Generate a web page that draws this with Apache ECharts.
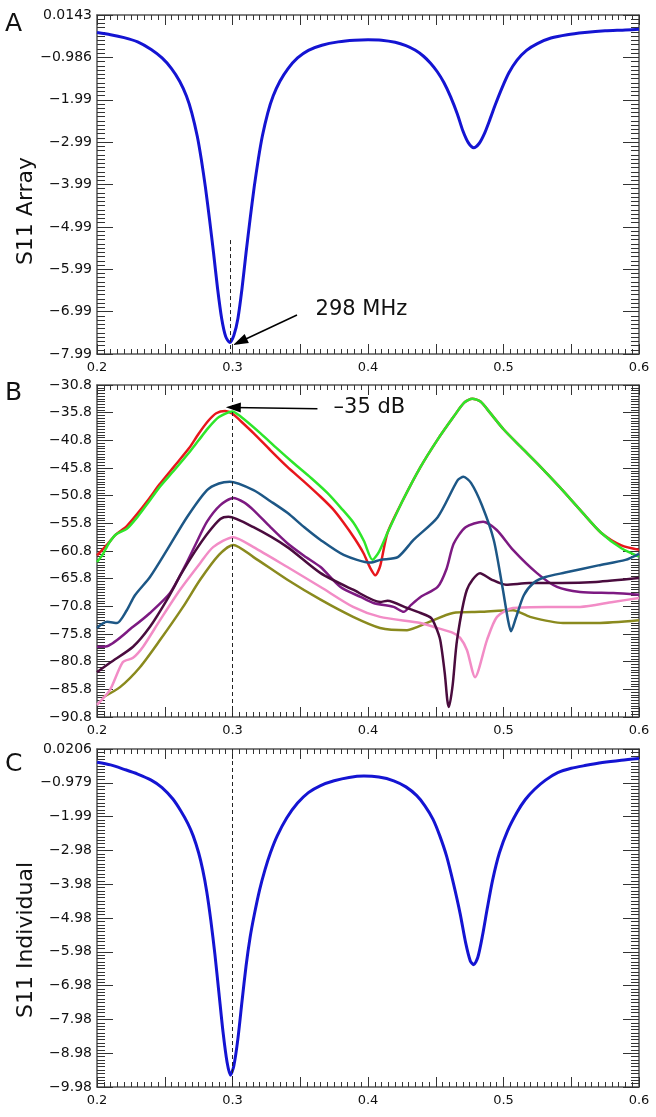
<!DOCTYPE html>
<html><head><meta charset="utf-8">
<script src="https://cdn.jsdelivr.net/npm/echarts@6/dist/echarts.min.js"></script>
<style>html,body{margin:0;padding:0;background:#fff}#c{width:656px;height:1117px}</style>
</head><body><div id="c"></div>
<script>
// ---------- DATA ----------
const xTickLabels = ['0.2','0.3','0.4','0.5','0.6'];
const yTickLabelsA = ['\u22127.99','\u22126.99','\u22125.99','\u22124.99','\u22123.99','\u22122.99','\u22121.99','\u22120.986','0.0143'];
const yTickLabelsB = ['\u221290.8','\u221285.8','\u221280.8','\u221275.8','\u221270.8','\u221265.8','\u221260.8','\u221255.8','\u221250.8','\u221245.8','\u221240.8','\u221235.8','\u221230.8'];
const yTickLabelsC = ['\u22129.98','\u22128.98','\u22127.98','\u22126.98','\u22125.98','\u22124.98','\u22123.98','\u22122.98','\u22121.99','\u22120.979','0.0206'];

// Panel A: S11 Array
const freqA = [0.200,0.210,0.220,0.230,0.240,0.248,0.255,0.261,0.266,0.270,0.274,0.277,0.280,0.283,0.286,0.289,0.292,0.295,0.298,0.301,0.304,0.307,0.310,0.313,0.316,0.319,0.322,0.326,0.330,0.335,0.341,0.348,0.356,0.366,0.378,0.390,0.400,0.410,0.420,0.428,0.435,0.441,0.446,0.451,0.456,0.461,0.466,0.470,0.474,0.478,0.482,0.486,0.490,0.494,0.499,0.504,0.510,0.517,0.525,0.535,0.547,0.560,0.575,0.590,0.600];
const s11Array = [-0.40,-0.45,-0.52,-0.62,-0.80,-1.00,-1.25,-1.55,-1.90,-2.30,-2.85,-3.40,-4.05,-4.80,-5.60,-6.45,-7.15,-7.58,-7.72,-7.55,-7.15,-6.45,-5.60,-4.80,-4.05,-3.40,-2.85,-2.30,-1.90,-1.55,-1.25,-1.00,-0.82,-0.70,-0.62,-0.58,-0.57,-0.58,-0.63,-0.71,-0.82,-0.96,-1.12,-1.32,-1.58,-1.92,-2.33,-2.72,-3.00,-3.12,-3.02,-2.78,-2.45,-2.10,-1.70,-1.35,-1.05,-0.82,-0.66,-0.53,-0.45,-0.40,-0.36,-0.34,-0.32];

// Panel B: coupling traces (dB)
const freqRed = [0.200,0.208,0.214,0.222,0.230,0.238,0.246,0.257,0.268,0.275,0.282,0.288,0.2946,0.300,0.306,0.3155,0.328,0.3405,0.353,0.365,0.374,0.382,0.390,0.3967,0.4015,0.4055,0.409,0.4144,0.426,0.4388,0.451,0.463,0.471,0.477,0.483,0.490,0.500,0.5128,0.527,0.542,0.557,0.572,0.587,0.600];
const dbRed = [-61.6,-59.5,-57.8,-56.3,-54.0,-51.5,-48.8,-45.5,-42.2,-39.6,-37.3,-35.9,-35.5,-36.0,-37.3,-39.5,-42.6,-45.6,-48.3,-51.0,-53.2,-55.7,-58.5,-61.2,-63.8,-65.2,-63.5,-57.5,-51.5,-45.6,-40.8,-36.6,-34.0,-33.3,-33.8,-35.8,-38.8,-42.0,-45.5,-49.4,-53.5,-57.5,-59.8,-60.6];
const freqGreen = [0.200,0.204,0.209,0.214,0.222,0.230,0.238,0.246,0.257,0.268,0.275,0.282,0.290,0.2998,0.306,0.3205,0.333,0.345,0.358,0.370,0.380,0.3893,0.397,0.4033,0.408,0.4144,0.426,0.4388,0.451,0.463,0.471,0.477,0.483,0.490,0.500,0.5128,0.527,0.542,0.557,0.572,0.587,0.600];
const dbGreen = [-62.8,-61.5,-59.3,-57.8,-56.8,-54.6,-52.0,-49.3,-46.2,-43.0,-40.8,-38.6,-36.6,-35.6,-36.5,-39.5,-42.3,-44.9,-47.6,-50.3,-53.0,-55.7,-59.0,-62.4,-61.0,-57.5,-51.5,-45.6,-40.8,-36.6,-34.0,-33.3,-33.8,-35.8,-38.8,-42.0,-45.5,-49.4,-53.5,-57.5,-60.3,-61.8];
const freqNavy = [0.200,0.2074,0.2148,0.222,0.228,0.2391,0.2517,0.2664,0.2812,0.290,0.298,0.3155,0.328,0.3405,0.353,0.365,0.382,0.402,0.409,0.422,0.4336,0.4514,0.4662,0.4705,0.476,0.484,0.4928,0.499,0.5035,0.5055,0.509,0.515,0.5225,0.531,0.5455,0.570,0.590,0.600];
const dbNavy = [-74.7,-73.6,-73.8,-71.5,-68.8,-65.5,-60.6,-54.7,-49.8,-48.6,-48.3,-49.8,-51.8,-53.9,-56.5,-58.8,-61.5,-62.9,-62.4,-61.9,-58.8,-54.7,-48.0,-47.4,-48.5,-52.5,-58.8,-67.0,-73.5,-75.3,-73.0,-68.8,-66.5,-65.5,-64.7,-63.4,-62.4,-61.3];
const freqPurple = [0.200,0.2074,0.2266,0.2391,0.2539,0.265,0.273,0.2812,0.291,0.3005,0.3085,0.3155,0.328,0.3405,0.353,0.365,0.3797,0.3945,0.404,0.4189,0.4263,0.432,0.4388,0.4514,0.458,0.4632,0.472,0.4849,0.495,0.507,0.5247,0.5395,0.5565,0.581,0.600];
const dbPurple = [-78.1,-78.0,-74.5,-72.0,-68.4,-63.5,-59.5,-55.5,-52.5,-51.2,-52.0,-53.4,-56.5,-59.4,-61.7,-63.7,-67.3,-69.1,-70.2,-70.9,-71.8,-70.5,-69.1,-67.3,-64.0,-59.5,-56.5,-55.5,-57.0,-60.6,-64.8,-67.3,-68.2,-68.4,-68.7];
const freqPlum = [0.200,0.2096,0.2266,0.2391,0.2517,0.262,0.272,0.282,0.291,0.297,0.3155,0.3405,0.365,0.389,0.409,0.4144,0.4288,0.4388,0.4466,0.450,0.4533,0.4567,0.4585,0.4597,0.4625,0.4657,0.473,0.4827,0.4915,0.5018,0.5188,0.5432,0.5683,0.600];
const dbPlum = [-82.7,-81.0,-78.1,-74.5,-69.6,-65.0,-61.0,-57.5,-55.0,-54.6,-56.5,-60.1,-64.8,-67.8,-70.0,-69.8,-71.1,-72.0,-72.9,-74.5,-76.9,-83.0,-87.7,-89.0,-85.0,-76.9,-67.8,-64.8,-66.0,-66.9,-66.6,-66.6,-66.4,-65.7];
const freqPink = [0.200,0.2096,0.219,0.2266,0.234,0.2465,0.2613,0.2761,0.2857,0.3005,0.3155,0.3405,0.365,0.389,0.4089,0.4388,0.4509,0.4627,0.468,0.473,0.479,0.4878,0.4952,0.507,0.532,0.5565,0.5808,0.600];
const dbPink = [-88.6,-85.9,-80.9,-80.1,-78.1,-73.3,-67.8,-63.0,-60.1,-58.3,-60.1,-63.7,-67.3,-70.9,-72.7,-73.8,-74.7,-75.6,-76.5,-78.7,-83.6,-76.9,-72.7,-71.1,-70.9,-70.9,-70.0,-69.3];
const freqOlive = [0.2045,0.2170,0.2317,0.2465,0.2635,0.2761,0.290,0.3005,0.3155,0.3405,0.365,0.389,0.4089,0.4288,0.4435,0.4627,0.4827,0.507,0.5196,0.5439,0.569,0.600];
const dbOlive = [-87.2,-85.4,-81.8,-76.9,-70.9,-66.0,-61.5,-59.7,-61.9,-66.0,-69.6,-72.7,-74.7,-75.1,-73.8,-72.0,-71.8,-71.5,-72.7,-73.8,-73.8,-73.3];

// Panel C: S11 Individual
const freqC = [0.200,0.210,0.220,0.230,0.240,0.248,0.256,0.262,0.267,0.271,0.275,0.278,0.281,0.284,0.287,0.290,0.293,0.296,0.2985,0.301,0.304,0.307,0.310,0.313,0.316,0.320,0.324,0.328,0.333,0.340,0.348,0.356,0.365,0.375,0.386,0.397,0.408,0.419,0.428,0.436,0.442,0.448,0.453,0.458,0.463,0.468,0.472,0.4755,0.478,0.481,0.4845,0.488,0.492,0.497,0.503,0.510,0.516,0.523,0.531,0.540,0.550,0.560,0.573,0.587,0.600];
const s11Individual = [-0.37,-0.45,-0.58,-0.72,-0.90,-1.12,-1.46,-1.82,-2.18,-2.55,-3.05,-3.55,-4.20,-5.05,-6.05,-7.20,-8.35,-9.25,-9.63,-9.35,-8.55,-7.45,-6.40,-5.55,-4.90,-4.15,-3.55,-3.05,-2.55,-2.02,-1.58,-1.27,-1.06,-0.92,-0.82,-0.78,-0.81,-0.92,-1.10,-1.36,-1.66,-2.06,-2.55,-3.15,-3.95,-4.85,-5.70,-6.25,-6.36,-6.15,-5.50,-4.70,-3.85,-3.05,-2.40,-1.85,-1.48,-1.17,-0.90,-0.68,-0.55,-0.47,-0.38,-0.31,-0.26];

// Annotations (data coordinates)
const markerFreq = 0.298;
const arrowA = [[0.3476,-7.07],[0.3055,-7.70]];
const textA = {coord:[0.3609,-6.95], text:'298 MHz'};
const dashA = [-5.30,-7.99];
const arrowB = [[0.3627,-35.1],[0.3006,-34.85]];
const textB = {coord:[0.3742,-34.8], text:'\u201335 dB'};

// ---------- CHART ----------
const FONT = "'DejaVu Sans', sans-serif";
const chart = echarts.init(document.getElementById('c'), null, {renderer:'canvas'});

const grids = [
  {left:97, right:17, top:15, height:339},
  {left:97, right:17, top:385, height:332},
  {left:97, right:17, top:749, height:338}
];
const lineCol = '#555', tickCol = '#333';

function xAxes(g){
  const base = {type:'value', gridIndex:g, min:0.2, max:0.6, interval:0.05,
    splitLine:{show:false}, minorSplitLine:{show:false},
    axisLine:{show:true, onZero:false, lineStyle:{color:lineCol, width:1.5}},
    axisTick:{show:true, inside:true, length:10, lineStyle:{color:tickCol, width:1}},
    minorTick:{show:true, splitNumber:10, length:5, lineStyle:{color:tickCol, width:1}}};
  return [
    Object.assign({}, base, {position:'bottom',
      axisLabel:{show:true, interval:0, margin:7, fontSize:13, color:'#111', fontFamily:FONT,
        formatter:v=>{const k=Math.round(v*10); return Math.abs(v*10-k)<1e-6 ? xTickLabels[k-2] : '';}}}),
    Object.assign({}, base, {position:'top', axisLabel:{show:false}})
  ];
}
function ticksOf(min,max,n){
  const step=(max-min)/n, arr=[];
  for(let k=0;k<=n;k++) arr.push(k===n?max:min+k*step);
  return arr;
}
function yAxes(g,min,max,n,labels){
  const step=(max-min)/n;
  const majors=ticksOf(min,max,n), minors=ticksOf(min,max,n*10);
  const base={type:'value', gridIndex:g, min:min, max:max, scale:true,
    splitLine:{show:false}, axisLine:{show:false, onZero:false}, axisLabel:{show:false}};
  const ln={show:true, onZero:false, lineStyle:{color:lineCol, width:1.5}};
  return [
    Object.assign({}, base, {position:'left', axisLine:ln,
      axisTick:{show:true, inside:true, length:16, customValues:majors, lineStyle:{color:tickCol,width:1}},
      axisLabel:{show:true, customValues:majors, margin:5, fontSize:14, color:'#111', fontFamily:FONT,
        formatter:v=>labels[Math.round((v-min)/step)]}}),
    Object.assign({}, base, {position:'left',
      axisTick:{show:true, inside:true, length:8, customValues:minors, lineStyle:{color:tickCol,width:1}}}),
    Object.assign({}, base, {position:'right', axisLine:ln,
      axisTick:{show:true, inside:true, length:16, customValues:majors, lineStyle:{color:tickCol,width:1}}}),
    Object.assign({}, base, {position:'right',
      axisTick:{show:true, inside:true, length:8, customValues:minors, lineStyle:{color:tickCol,width:1}}})
  ];
}

const zip=(xs,ys)=>xs.map((x,i)=>[x,ys[i]]);
function line(name,xs,ys,color,width,xi,yi,smooth,extra){
  return Object.assign({type:'line', name:name, data:zip(xs,ys), xAxisIndex:xi, yAxisIndex:yi,
    showSymbol:false, symbol:'none', smooth:smooth,
    lineStyle:{color:color, width:width, join:'round'}, itemStyle:{color:color}, silent:true}, extra||{});
}
const dashStyle={type:[4,3], color:'#222', width:1};
const arrowStyle={type:'solid', color:'#000', width:1.5};
function arrowLine(a){
  return [{coord:a[0], symbol:'none', lineStyle:arrowStyle},
          {coord:a[1], symbol:'triangle', symbolSize:[10,15], lineStyle:arrowStyle}];
}
function textPoint(t){
  return {data:[{coord:t.coord, symbol:'circle', symbolSize:1, itemStyle:{color:'rgba(0,0,0,0)'},
    label:{show:true, position:'right', distance:0, formatter:t.text, fontSize:21, color:'#111', fontFamily:FONT}}],
    silent:true, animation:false};
}

const option = {
  animation:false,
  backgroundColor:'#fff',
  grid:grids,
  xAxis:[].concat(xAxes(0), xAxes(1), xAxes(2)),
  yAxis:[].concat(
    yAxes(0,-7.99,0.0143,8,yTickLabelsA),
    yAxes(1,-90.8,-30.8,12,yTickLabelsB),
    yAxes(2,-9.98,0.0206,10,yTickLabelsC)),
  series:[
    line('S11 Array', freqA, s11Array, '#1414d2', 3, 0, 0, 0.25, {
      markLine:{silent:true, animation:false, symbol:['none','none'], label:{show:false},
        data:[[{coord:[markerFreq,dashA[0]], lineStyle:dashStyle},{coord:[markerFreq,dashA[1]], lineStyle:dashStyle}],
              arrowLine(arrowA)]},
      markPoint:textPoint(textA)}),
    line('red', freqRed, dbRed, '#e8161c', 2.5, 2, 4, 0.25, {
      markLine:{silent:true, animation:false, symbol:['none','none'], label:{show:false},
        data:[{xAxis:markerFreq, lineStyle:dashStyle}, arrowLine(arrowB)]},
      markPoint:textPoint(textB)}),
    line('green', freqGreen, dbGreen, '#2ee62a', 2.5, 2, 4, 0.25),
    line('olive', freqOlive, dbOlive, '#8a8a1e', 2.5, 2, 4, 0.25),
    line('pink', freqPink, dbPink, '#f28cc6', 2.5, 2, 4, 0.25),
    line('purple', freqPurple, dbPurple, '#7d1a82', 2.5, 2, 4, 0.25),
    line('plum', freqPlum, dbPlum, '#4a0c3e', 2.5, 2, 4, 0.25),
    line('navy', freqNavy, dbNavy, '#1d5786', 2.5, 2, 4, 0.25),
    line('S11 Individual', freqC, s11Individual, '#1414d2', 3, 4, 8, 0.25, {
      markLine:{silent:true, animation:false, symbol:['none','none'], label:{show:false},
        data:[{xAxis:markerFreq, lineStyle:dashStyle}]}})
  ],
  graphic:[
    {type:'text', left:5, top:12, style:{text:'A', fontSize:25, fill:'#111', fontFamily:FONT}},
    {type:'text', left:5, top:381, style:{text:'B', fontSize:25, fill:'#111', fontFamily:FONT}},
    {type:'text', left:5, top:752, style:{text:'C', fontSize:25, fill:'#111', fontFamily:FONT}},
    {type:'text', x:26, y:211, rotation:Math.PI/2,
      style:{text:'S11 Array', fontSize:22, fill:'#111', fontFamily:FONT, align:'center', verticalAlign:'middle'}},
    {type:'text', x:26, y:940, rotation:Math.PI/2,
      style:{text:'S11 Individual', fontSize:22, fill:'#111', fontFamily:FONT, align:'center', verticalAlign:'middle'}}
  ]
};
chart.setOption(option);
</script></body></html>
